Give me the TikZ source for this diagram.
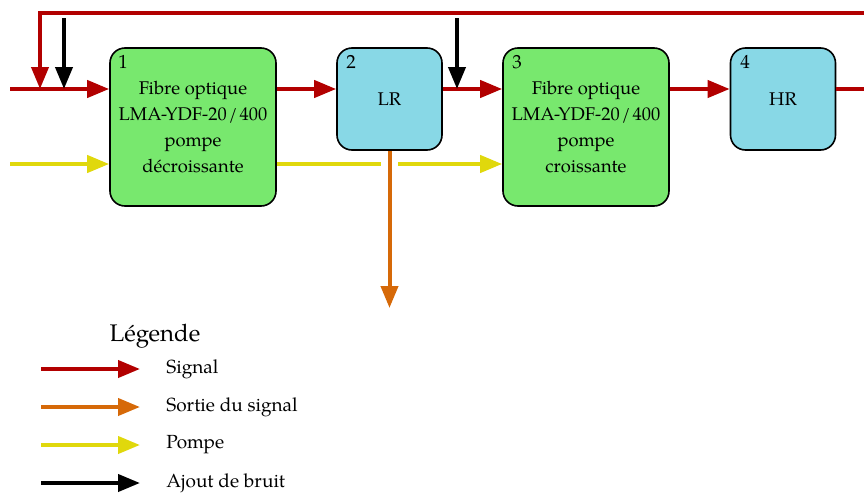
\documentclass[tikz,border=0pt]{standalone}
\usepackage{fontspec}
\setmainfont{TeX Gyre Pagella}
\usepackage{tikz}
\usetikzlibrary{arrows.meta}

\definecolor{rouge}{RGB}{178,0,0}
\definecolor{orange}{RGB}{214,105,8}
\definecolor{jaune}{RGB}{224,216,12}
\definecolor{vert}{RGB}{120,232,110}
\definecolor{bleu}{RGB}{136,216,230}

\tikzset{
  fleche/.style={line width=2pt,-{Triangle[length=11pt,width=8.5pt]}},
  signal/.style={fleche,draw=rouge},
  sortie/.style={fleche,draw=orange},
  pompe/.style={fleche,draw=jaune},
  bruit/.style={fleche,draw=black},
  fibre/.style={draw,line width=0.8pt,fill=vert,rounded corners=7.5pt,minimum width=83pt,minimum height=79pt,inner sep=0pt,align=center,font=\fontsize{9.2}{13}\selectfont},
  miroir/.style={draw,line width=0.8pt,fill=bleu,rounded corners=7.5pt,minimum width=52.5pt,minimum height=51pt,inner sep=0pt,font=\fontsize{9.2}{13}\selectfont},
  numero/.style={inner sep=0pt,font=\fontsize{9.5}{12}\selectfont}
}

\begin{document}
\begin{tikzpicture}[x=0.5pt,y=-0.5pt]
\useasboundingbox (0,0) rectangle (864,493);
\clip (0,0) rectangle (864,493);

% les blocs
\node[fibre] (f1) at (193,127) {Fibre optique\\LMA-YDF-20\kern1pt/\kern1pt400\\pompe\\décroissante};
\node[miroir] (lr) at (389.5,99) {LR};
\node[fibre] (f3) at (586,127) {Fibre optique\\LMA-YDF-20\kern1pt/\kern1pt400\\pompe\\croissante};
\node[miroir] (hr) at (783,99) {HR};
\node[numero] (n1) at (123,62) {1};
\node[numero] (n2) at (351,62) {2};
\node[numero] (n3) at (517,62) {3};
\node[numero] (n4) at (745,62) {4};

% signal
\coordinate (in) at (10,89);
\coordinate (out) at (880,89);
\coordinate (retour) at (880,13);
\coordinate (boucle) at (40,13);
\draw[signal] (in) -- (in -| f1.west);
\draw[signal] (in -| f1.east) -- (in -| lr.west);
\draw[signal] (in -| lr.east) -- (in -| f3.west);
\draw[signal] (in -| f3.east) -- (in -| hr.west);
\draw[signal,-] (in -| hr.east) -- (out);
\draw[signal] (retour) -- (boucle) -- (boucle |- in);

% bruit
\coordinate (b1) at (64,18);
\coordinate (b2) at (457,18);
\draw[bruit] (b1) -- (b1 |- in);
\draw[bruit] (b2) -- (b2 |- in);

% pompe
\coordinate (p) at (10,164);
\coordinate (p1) at (381,164);
\coordinate (p2) at (398,164);
\draw[pompe] (p) -- (p -| f1.west);
\draw[pompe,-] (p -| f1.east) -- (p1);
\draw[pompe] (p2) -- (p -| f3.west);

% sortie
\coordinate (s) at (389.5,308);
\draw[sortie] (lr.south) -- (s);

% legende
\node[font=\fontsize{12}{14}\selectfont] (leg) at (155,336) {Légende};
\foreach \y/\style/\txt in {369/signal/Signal,407/sortie/Sortie du signal,445/pompe/Pompe,483/bruit/Ajout de bruit}{
  \coordinate (l\y) at (41,\y);
  \draw[\style] (l\y) -- ++(99,0);
  \node[anchor=west,inner sep=0pt,font=\fontsize{9.5}{11}\selectfont] (t\y) at (166,\y) {\txt};
}
\end{tikzpicture}
\end{document}
